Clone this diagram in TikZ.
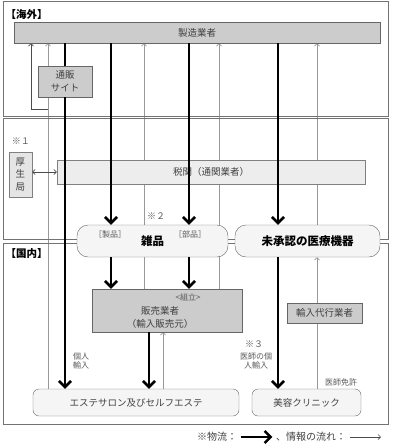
\documentclass[tikz,border=0pt]{standalone}
\usepackage{fontspec}
\setmainfont{Noto Sans CJK JP}
\usetikzlibrary{positioning,arrows.meta}
\pgfdeclarelayer{back}
\pgfsetlayers{back,main}

\begin{document}
\begin{tikzpicture}[
  x=1pt, y=-1pt,
  font=\fontsize{9.5}{12.5}\selectfont,
  every node/.style={align=center, text=black!75},
  region/.style={draw=black!55, line width=0.8pt},
  regionlabel/.style={anchor=west, font=\bfseries\fontsize{10.5}{12}\selectfont, text=black},
  graybox/.style={draw=black!60, fill=black!20, inner sep=0pt},
  lightbox/.style={draw=black!50, fill=black!7, inner sep=0pt},
  roundbox/.style={draw=black!60, fill=black!4, rounded corners=#1, inner sep=0pt},
  tag/.style={font=\fontsize{8}{9.5}\selectfont, text=black!65},
  goods/.style={-{Straight Barb[length=6pt,width=12pt]}, line width=2.6pt, black},
  info/.style={-{Straight Barb[length=2.5pt,width=5pt]}, line width=0.7pt, black!40},
  infodark/.style={info, black!70},
]
\useasboundingbox (0,0) rectangle (392,447);

% --- regions ---
\draw[region] (3,1.5) rectangle (388,116);
\draw[region] (3,118.5) rectangle (388,239.5);
\draw[region] (3,243) rectangle (388,424);
\node[regionlabel] (kaigai) at (2,14.5) {【海外】};
\node[regionlabel] (kokunai) at (2,254) {【国内】};

% --- boxes ---
\node[graybox, minimum width=366pt, minimum height=21pt] (maker) at (197,32.5) {製造業者};
\node[graybox, minimum width=54pt, minimum height=31pt] (tsuhan) at (65,81.5) {通販\\サイト};
\node[lightbox, minimum width=308pt, minimum height=24pt] (zeikan) at (211,172) {税関（通関業者）};
\node[lightbox, fill=black!10, minimum width=23pt, minimum height=45pt] (koseikyoku) at (20.5,174.5) {厚\\生\\局};
\node[roundbox=11pt, minimum width=151pt, minimum height=32pt,
      font=\bfseries\fontsize{11.5}{13}\selectfont, text=black] (zappin) at (152.5,241) {雑品};
\node[roundbox=11pt, minimum width=145pt, minimum height=32pt,
      font=\bfseries\fontsize{11.5}{13}\selectfont, text=black] (mishonin) at (307.5,241) {未承認の医療機器};
\node[graybox, minimum width=150pt, minimum height=43pt] (hanbai) at (167,310.5) {};
\node (hanbaitext) at (160,317.5) {販売業者\\（輸入販売元）};
\node[graybox, minimum width=75pt, minimum height=20pt] (dairi) at (324.5,313) {輸入代行業者};
\node[roundbox=6pt, minimum width=206pt, minimum height=27pt] (esthe) at (136,402.5) {エステサロン及びセルフエステ};
\node[roundbox=6pt, minimum width=109pt, minimum height=27pt] (clinic) at (306.5,402.5) {美容クリニック};

% --- notes ---
\node[tag, font=\fontsize{9}{10}\selectfont] (note1) at (21,141) {※１};
\node[tag, font=\fontsize{9}{10}\selectfont] (note2) at (156,216) {※２};
\node[tag, font=\fontsize{9}{10}\selectfont] (note3) at (254,344) {※３};
\node[tag] (seihin) at (110,234) {［製品］};
\node[tag] (buhin) at (190,234) {［部品］};
\node[tag] (kumitate) at (188,297.5) {<組立>};
\node[tag, align=left, font=\fontsize{8}{9}\selectfont] (kojin) at (81,361) {個人\\輸入};
\node[tag, font=\fontsize{8}{9}\selectfont] (ishikojin) at (256,361) {医師の個\\人輸入};
\node[tag] (menkyo) at (341,382) {医師免許};

% --- columns ---
\foreach \n/\x in {a/31,b/48,c/65,d/111,e/144,f/149,g/163,h/189,i/219,j/278,k/317}
  \coordinate (col\n) at (\x,0);
\coordinate (tsuhanL) at (48,109);

% --- information flow (behind boxes) ---
\begin{pgfonlayer}{back}
\draw[info] (colb |- esthe.north) -- (colb |- maker.south);
\draw[infodark] (tsuhanL) -| (cola |- maker.south);
\draw[info] (cole |- hanbai.north) -- (cole |- maker.south);
\draw[info] (coli |- hanbai.north) -- (coli |- maker.south);
\draw[info] (colg |- esthe.north) -- (colg |- hanbai.south);
\draw[info] (colk |- clinic.north) -- (colk |- mishonin.south);
\draw[info] (colk |- mishonin.north) -- (colk |- maker.south);
\end{pgfonlayer}
\draw[infodark, {Straight Barb[length=2.5pt,width=5pt]}-{Straight Barb[length=2.5pt,width=5pt]}]
  (koseikyoku.east |- zeikan.west) -- (zeikan.west);

% --- goods flow ---
\draw[line width=2.6pt] (colc |- maker.south) -- (colc |- tsuhan.north);
\draw[goods] (colc |- tsuhan.south) -- (colc |- esthe.north);
\draw[goods] (cold |- maker.south) -- (cold |- zappin.north);
\draw[goods] (colh |- maker.south) -- (colh |- zappin.north);
\draw[goods] (colj |- maker.south) -- (colj |- mishonin.north);
\draw[goods] (cold |- zappin.south) -- (cold |- hanbai.north);
\draw[goods] (colh |- zappin.south) -- (colh |- hanbai.north);
\draw[goods] (colj |- mishonin.south) -- (colj |- clinic.north);
\draw[goods] (colf |- hanbai.south) -- (colf |- esthe.north);

% --- legend ---
\node[font=\fontsize{10}{12}\selectfont] (legbutsu) at (217,437) {※物流：};
\node[font=\fontsize{10}{12}\selectfont] (legjoho) at (311,437) {、情報の流れ：};
\coordinate (legend) at (381,437);
\draw[goods] (legbutsu.east) -- (legjoho.west);
\draw[infodark] (legjoho.east) -- (legend);
\end{tikzpicture}
\end{document}
